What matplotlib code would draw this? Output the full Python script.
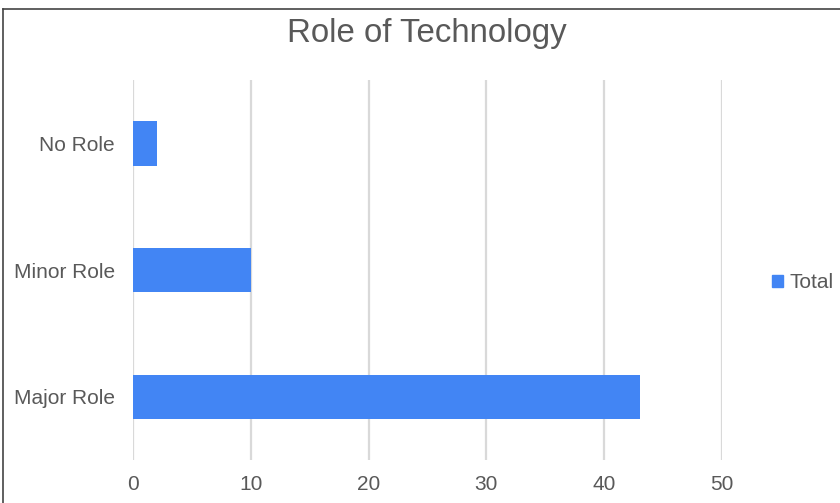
import matplotlib
matplotlib.use("Agg")
import matplotlib.pyplot as plt
from matplotlib.lines import Line2D
from matplotlib.patches import Patch

# data
categories = ['Major Role', 'Minor Role', 'No Role']
totals = [43, 10, 2]
x_ticks = [0, 10, 20, 30, 40, 50]

plt.rcParams['font.family'] = ['Liberation Sans', 'DejaVu Sans']
txt = '#595959'
blue = '#4285f4'

fig = plt.figure(figsize=(8.4, 5.03), dpi=100)
ax = fig.add_axes([133 / 840, 1 - 460 / 503, 589 / 840, 380 / 503])

ax.barh(range(len(categories)), totals, height=0.35, color=blue, zorder=3)

ax.set_xlim(0, 50)
ax.set_ylim(-0.5, len(categories) - 0.5)
ax.set_xticks(x_ticks)
ax.set_yticks(range(len(categories)))
ax.set_yticklabels(categories)
ax.tick_params(axis='both', length=0, labelsize=15, labelcolor=txt)
ax.tick_params(axis='x', pad=11)
ax.tick_params(axis='y', pad=13)
ax.grid(axis='x', color='#d9d9d9', linewidth=1.6, zorder=0)
for s in ax.spines.values():
    s.set_visible(False)

fig.text(427 / 840, 1 - 33 / 503, 'Role of Technology', ha='center', va='center',
         fontsize=23.8, color=txt)

fig.legend(handles=[Patch(color=blue, label='Total')], loc='center left',
           bbox_to_anchor=(764 / 840, 1 - 283 / 503), frameon=False,
           fontsize=15, labelcolor=txt, handlelength=0.5, handleheight=0.55,
           handletextpad=0.3, borderaxespad=0)

# partial frame of the screenshot
fig.add_artist(Line2D([3 / 840, 1], [1 - 9 / 503, 1 - 9 / 503], color='#444444', lw=1.2))
fig.add_artist(Line2D([3 / 840, 3 / 840], [0, 1 - 9 / 503], color='#444444', lw=1.2))

fig.savefig('out.png', dpi=100)
